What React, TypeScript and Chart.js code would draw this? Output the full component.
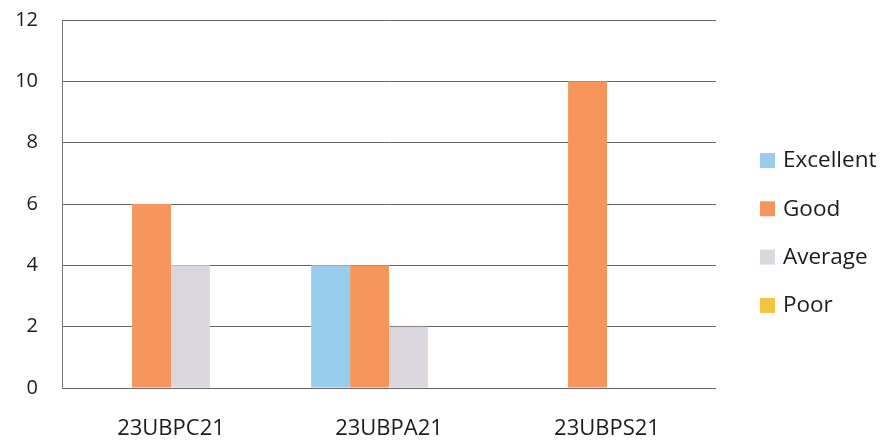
import React, { useEffect, useRef } from "react";
import { Chart, registerables } from "chart.js";

Chart.register(...registerables);

const categories = ["23UBPC21", "23UBPA21", "23UBPS21"];
const excellent = [0, 4, 0];
const good = [6, 4, 10];
const average = [4, 2, 0];
const poor = [0, 0, 0];
const seriesNames = ["Excellent", "Good", "Average", "Poor"];
const seriesColors = ["#98cdee", "#f6955c", "#dcd6df", "#f6c244"];

const FONT = "'Open Sans', 'DejaVu Sans', sans-serif";

const legendPlugin = {
  id: "sideLegend",
  afterDraw(chart: any) {
    const ctx = chart.ctx;
    const ds = chart.data.datasets;
    ctx.save();
    ctx.font = `22.5px ${FONT}`;
    ctx.textBaseline = "middle";
    ctx.textAlign = "left";
    const x0 = 752;
    const y0 = 152;
    const gap = 48.3;
    ds.forEach((d: any, i: number) => {
      const cy = y0 + i * gap;
      ctx.fillStyle = d.backgroundColor;
      ctx.fillRect(x0, cy - 7, 15, 15);
      ctx.fillStyle = "#1c1c1c";
      ctx.fillText(d.label, x0 + 23, cy + 1);
    });
    ctx.restore();
  },
};

export default function App() {
  const ref = useRef<HTMLCanvasElement>(null);
  useEffect(() => {
    if (!ref.current) return;
    const values = [excellent, good, average, poor];
    const chart = new Chart(ref.current, {
      type: "bar",
      data: {
        labels: categories,
        datasets: seriesNames.map((n, i) => ({
          label: n,
          data: values[i],
          backgroundColor: seriesColors[i],
          borderWidth: 0,
          barPercentage: 1,
          categoryPercentage: 0.714,
        })),
      },
      options: {
        animation: false,
        responsive: true,
        maintainAspectRatio: false,
        layout: { padding: { top: 12, right: 160, left: 0, bottom: 0 } },
        plugins: { legend: { display: false }, tooltip: { enabled: false } },
        scales: {
          x: {
            grid: { display: false, drawTicks: false },
            border: { display: false },
            ticks: { color: "#1c1c1c", font: { family: FONT, size: 22 }, padding: 28 },
            afterFit: (s: any) => {
              s.height = 50;
              s.paddingLeft = 0;
              s.paddingRight = 0;
            },
          },
          y: {
            min: 0,
            max: 12,
            ticks: { stepSize: 2, color: "#1c1c1c", font: { family: FONT, size: 20 }, padding: 24 },
            grid: { color: "#666666", lineWidth: 1, drawTicks: false },
            border: { display: true, color: "#7a7a7a" },
            afterFit: (s: any) => {
              s.width = 54;
              s.paddingTop = 0;
              s.paddingBottom = 0;
            },
          },
        },
      },
      plugins: [legendPlugin],
    });
    return () => chart.destroy();
  }, []);
  return (
    <div style={{ width: 868, height: 430, position: "relative" }}>
      <canvas ref={ref} />
    </div>
  );
}
